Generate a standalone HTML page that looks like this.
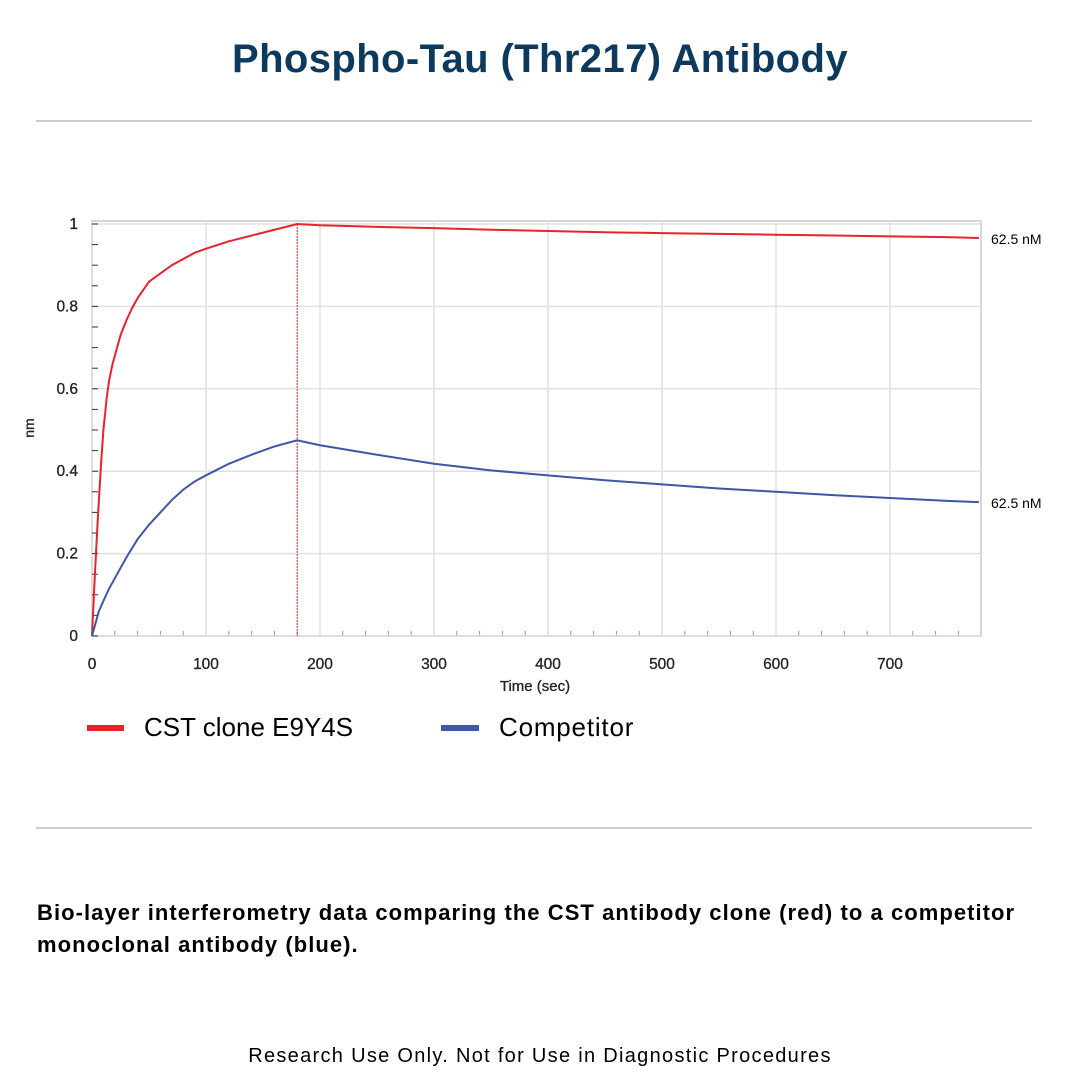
<!DOCTYPE html>
<html><head><meta charset="utf-8"><style>
body{margin:0;background:#fff;width:1080px;height:1080px;overflow:hidden;position:relative;font-family:"Liberation Sans",sans-serif}
.t{position:absolute;white-space:nowrap}
</style></head><body>
<div class="t" style="left:0;width:1080px;text-align:center;top:37px;font-size:40px;font-weight:bold;color:#0d3a5c;letter-spacing:0.4px">Phospho-Tau (Thr217) Antibody</div>
<div style="position:absolute;left:36px;width:996px;top:120px;height:2px;background:#ccc"></div>
<svg id="chart" width="1080" height="720" style="position:absolute;left:0;top:0" xmlns="http://www.w3.org/2000/svg"></svg>
<div class="t" style="left:87px;top:712px"><span style="display:inline-block;width:37px;height:6px;background:#e8232a;vertical-align:middle;margin-right:20px"></span><span style="font-size:26px;vertical-align:middle">CST clone E9Y4S</span></div>
<div class="t" style="left:441px;top:712px"><span style="display:inline-block;width:38px;height:6px;background:#3d56a6;vertical-align:middle;margin-right:20px"></span><span style="font-size:26px;vertical-align:middle;letter-spacing:0.8px">Competitor</span></div>
<div style="position:absolute;left:36px;width:996px;top:827px;height:2px;background:#ccc"></div>
<div class="t" style="left:37px;top:897px;font-size:22px;font-weight:bold;line-height:32px;letter-spacing:1.05px">Bio-layer interferometry data comparing the CST antibody clone (red) to a competitor<br>monoclonal antibody (blue).</div>
<div class="t" style="left:0;width:1080px;text-align:center;top:1045px;font-size:20px;letter-spacing:1.3px">Research Use Only. Not for Use in Diagnostic Procedures</div>
<script>
const redT=[0,2,5,8,10,13,15,18,20,25,30,35,40,45,50,60,70,80,90,100,120,140,160,180,200,250,300,350,400,450,500,550,600,650,700,750,778];
const redV=[0,0.12,0.28,0.42,0.5,0.58,0.62,0.66,0.68,0.73,0.765,0.795,0.82,0.84,0.86,0.88,0.9,0.915,0.93,0.94,0.958,0.972,0.986,1.0,0.997,0.993,0.99,0.986,0.983,0.98,0.978,0.976,0.974,0.972,0.97,0.968,0.966];
const blueT=[0,3,6,10,15,20,30,40,50,60,70,80,90,100,120,140,160,180,200,250,300,350,400,450,500,550,600,650,700,750,778];
const blueV=[0,0.03,0.06,0.085,0.115,0.14,0.19,0.235,0.27,0.3,0.33,0.355,0.375,0.39,0.418,0.44,0.46,0.475,0.463,0.44,0.418,0.402,0.39,0.378,0.368,0.358,0.35,0.342,0.335,0.328,0.325];
const xTicks=[0,100,200,300,400,500,600,700];
const yTicks=[0,0.2,0.4,0.6,0.8,1];
const X0=92,XS=1.14,Y0=636,YS=412,RIGHT=981,TOP=221;
const x=t=>X0+t*XS, y=v=>Y0-v*YS;
const svg=document.getElementById('chart');const NS='http://www.w3.org/2000/svg';
function mk(tag,a,txt){const e=document.createElementNS(NS,tag);for(const k in a)e.setAttribute(k,a[k]);if(txt!==undefined)e.textContent=txt;svg.appendChild(e);return e;}
const bg=mk('rect',{x:X0,y:TOP,width:RIGHT-X0,height:Y0-TOP,fill:'#fff',stroke:'#d6d6d6','stroke-width':2});


xTicks.forEach(t=>{const g=mk('line',{x1:x(t),x2:x(t),y1:TOP,y2:Y0,stroke:'#e0e0e0','stroke-width':1.5});


const l=mk('text',{x:x(t),y:Y0+33,'text-anchor':'middle','font-size':15.5,fill:'#222','stroke':'#222','stroke-width':0.3},t);

});
for(let t=20;t<780;t+=20){if(t%100)mk('line',{x1:x(t),x2:x(t),y1:Y0,y2:Y0-5,stroke:'#999'});}
yTicks.forEach(v=>{const g=mk('line',{x1:X0,x2:RIGHT,y1:y(v),y2:y(v),stroke:'#e0e0e0','stroke-width':1.5});


const l=mk('text',{x:X0-14,y:y(v)+5,'text-anchor':'end','font-size':15.5,fill:'#222','stroke':'#222','stroke-width':0.3},v);

});
for(let v=0;v<=1.0001;v+=0.05){mk('line',{x1:X0,x2:X0+6,y1:y(v),y2:y(v),stroke:'#333'});}
const xt=mk('text',{x:535,y:691,'text-anchor':'middle','font-size':15,fill:'#222','stroke':'#222','stroke-width':0.3},'Time (sec)');


const yt=mk('text',{x:34,y:428,'text-anchor':'middle','font-size':14,fill:'#222','stroke':'#222','stroke-width':0.3,transform:'rotate(-90 34 428)'},'nm');


const vl=mk('line',{x1:x(180),x2:x(180),y1:y(1),y2:Y0,stroke:'#e02020','stroke-width':1,'stroke-dasharray':'2,1'});


const rp=mk('polyline',{points:redT.map((t,i)=>x(t)+','+y(redV[i])).join(' '),fill:'none',stroke:'#e8232a','stroke-width':2});


const bp=mk('polyline',{points:blueT.map((t,i)=>x(t)+','+y(blueV[i])).join(' '),fill:'none',stroke:'#3d56a6','stroke-width':2});


const r1=mk('text',{x:991,y:y(redV[redV.length-1])+6,'font-size':14},'62.5 nM');


const r2=mk('text',{x:991,y:y(blueV[blueV.length-1])+6,'font-size':14},'62.5 nM');


</script>
</body></html>
